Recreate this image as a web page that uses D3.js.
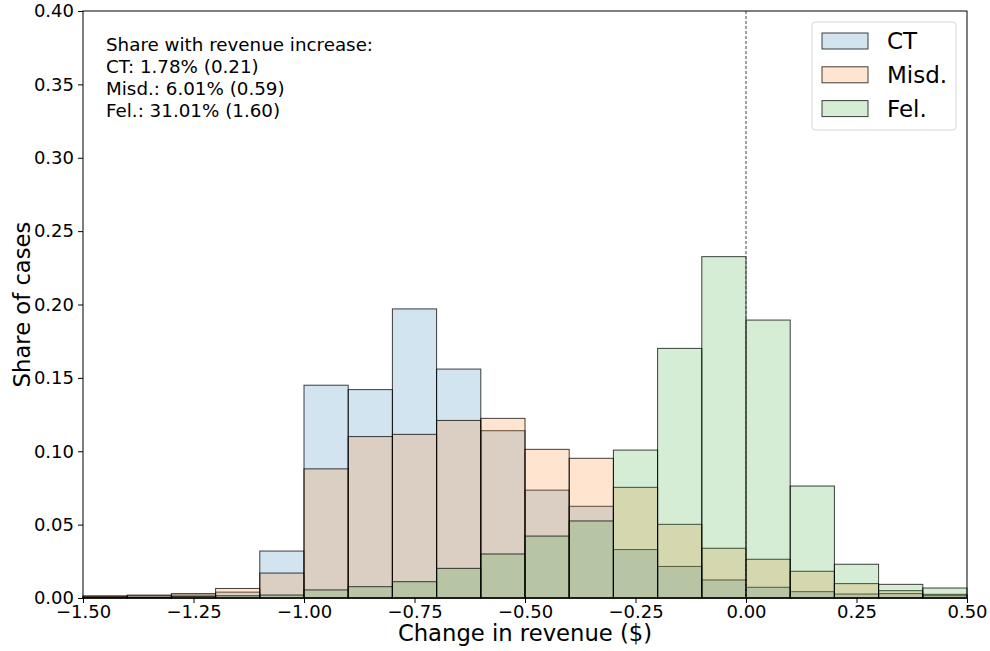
<!DOCTYPE html>
<html lang="en">
<head>
<meta charset="utf-8">
<title>Change in revenue histogram</title>
<script src="https://d3js.org/d3.v7.min.js"></script>
<style>
  body { margin: 0; background: #fff; }
  svg { font-family: "DejaVu Sans", sans-serif; }
</style>
</head>
<body>
<script>
// bin left edges, width 0.1
const binStarts = d3.range(20).map(i => -1.5 + i * 0.1);
const binWidth = 0.1;

const ctShares   = [0.001, 0.0015, 0.002, 0.004, 0.032, 0.145, 0.142, 0.197, 0.156, 0.114,
                    0.0735, 0.0625, 0.033, 0.0215, 0.0123, 0.0073, 0.0043, 0.0027, 0.003, 0.0016];
const misdShares = [0.0015, 0.002, 0.003, 0.0065, 0.017, 0.088, 0.110, 0.1115, 0.121, 0.1224,
                    0.1013, 0.0952, 0.0754, 0.0502, 0.0339, 0.0264, 0.0182, 0.0098, 0.005, 0.0025];
const felShares  = [0.0005, 0.0005, 0.001, 0.0015, 0.002, 0.0055, 0.0077, 0.0111, 0.0202, 0.030,
                    0.0422, 0.0525, 0.1008, 0.1701, 0.2326, 0.1894, 0.0763, 0.023, 0.0093, 0.0068];

const seriesNames = ["CT", "Misd.", "Fel."];
const seriesColors = ["#1f77b4", "#ff7f0e", "#2ca02c"];
const seriesValues = [ctShares, misdShares, felShares];

const xTicks = [-1.5, -1.25, -1.0, -0.75, -0.5, -0.25, 0, 0.25, 0.5];
const yTicks = d3.range(0, 0.401, 0.05);
const noteLines = ["Share with revenue increase:", "CT: 1.78% (0.21)", "Misd.: 6.01% (0.59)", "Fel.: 31.01% (1.60)"];

const W = 990, H = 651;
const margin = {left: 83, right: 23, top: 11, bottom: 53};

const svg = d3.select("body").append("svg")
    .attr("width", W).attr("height", H);

const x = d3.scaleLinear().domain([-1.5, 0.5]).range([margin.left, W - margin.right]);
const y = d3.scaleLinear().domain([0, 0.4]).range([H - margin.bottom, margin.top]);

const fmt = d => d3.format(".2f")(d).replace("-", "\u2212");

// bars, drawn in order CT, Misd, Fel
seriesValues.forEach(function(vals, s) {
    svg.append("g").selectAll("rect")
        .data(vals)
        .enter()
        .append("rect")
        .attr("x", (d, i) => x(binStarts[i]))
        .attr("width", (d, i) => x(binStarts[i] + binWidth) - x(binStarts[i]))
        .attr("y", d => y(d))
        .attr("height", d => y(0) - y(d))
        .attr("fill", seriesColors[s])
        .attr("fill-opacity", 0.2)
        .attr("stroke", "#000")
        .attr("stroke-opacity", 0.75)
        .attr("stroke-width", 1);
});

// dashed zero line
svg.append("line")
    .attr("x1", x(0)).attr("x2", x(0))
    .attr("y1", y(0.4)).attr("y2", y(0))
    .attr("stroke", "#444").attr("stroke-width", 1)
    .attr("stroke-dasharray", "3,2");

// frame
svg.append("rect")
    .attr("x", x(-1.5)).attr("y", y(0.4))
    .attr("width", x(0.5) - x(-1.5)).attr("height", y(0) - y(0.4))
    .attr("fill", "none").attr("stroke", "#000").attr("stroke-width", 1);

// axes
const xAxis = svg.append("g")
    .attr("transform", `translate(0,${y(0)})`)
    .call(d3.axisBottom(x).tickValues(xTicks).tickFormat(fmt).tickSize(5).tickPadding(2));
const yAxis = svg.append("g")
    .attr("transform", `translate(${x(-1.5)},0)`)
    .call(d3.axisLeft(y).tickValues(yTicks).tickFormat(fmt).tickSize(5).tickPadding(4));
[xAxis, yAxis].forEach(function(g) {
    g.select(".domain").remove();
    g.selectAll("text").attr("font-size", "18px").attr("fill", "#000")
        .attr("font-family", "DejaVu Sans, sans-serif");
    g.selectAll("line").attr("stroke", "#000");
});

// axis labels
svg.append("text")
    .attr("x", (x(-1.5) + x(0.5)) / 2).attr("y", 641)
    .attr("text-anchor", "middle").attr("font-size", "22.7px")
    .text("Change in revenue ($)");
svg.append("text")
    .attr("transform", `translate(30,${(y(0) + y(0.4)) / 2}) rotate(-90)`)
    .attr("text-anchor", "middle").attr("font-size", "22.7px")
    .text("Share of cases");

// annotation
svg.append("g").selectAll("text")
    .data(noteLines)
    .enter()
    .append("text")
    .attr("x", 106)
    .attr("y", (d, i) => 51 + i * 21.9)
    .attr("font-size", "18.3px")
    .text(d => d);

// legend
const legend = svg.append("g");
legend.append("rect")
    .attr("x", 812).attr("y", 22).attr("width", 144).attr("height", 108)
    .attr("rx", 3).attr("fill", "#fff").attr("fill-opacity", 0.8)
    .attr("stroke", "#d6d6d6");
seriesNames.forEach(function(name, i) {
    const cy = 41 + i * 33.8;
    legend.append("rect")
        .attr("x", 822).attr("y", cy - 8).attr("width", 46).attr("height", 16)
        .attr("fill", seriesColors[i]).attr("fill-opacity", 0.2)
        .attr("stroke", "#000").attr("stroke-opacity", 0.75);
    legend.append("text")
        .attr("x", 887).attr("y", cy + 8)
        .attr("font-size", "23px")
        .text(name);
});
</script>
</body>
</html>
